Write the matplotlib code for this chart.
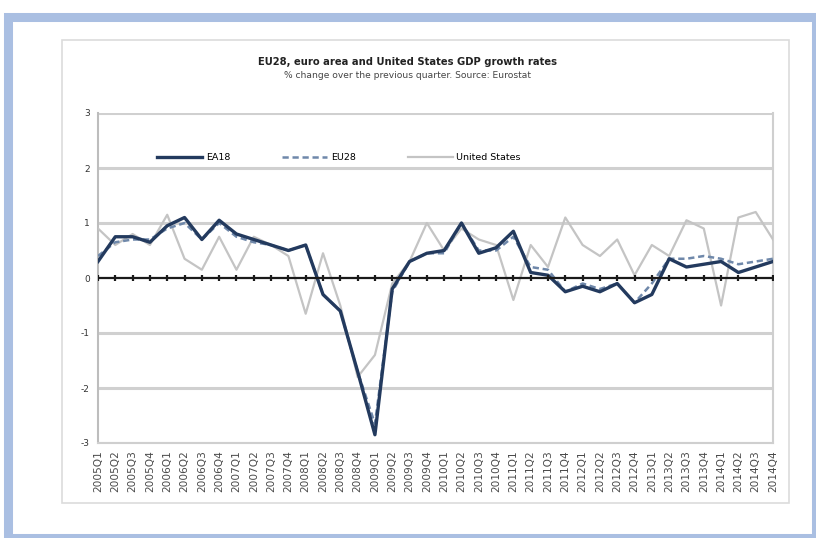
import matplotlib
matplotlib.use("Agg")
import matplotlib.pyplot as plt
from matplotlib.patches import Rectangle

# Quarterly GDP growth, % change over the previous quarter
quarters = [f"{y}Q{q}" for y in range(2005, 2015) for q in range(1, 5)]

ea18 = [0.3, 0.75, 0.75, 0.65, 0.95, 1.1, 0.7, 1.05, 0.8, 0.7,
        0.6, 0.5, 0.6, -0.3, -0.6, -1.7, -2.85, -0.2, 0.3, 0.45,
        0.5, 1.0, 0.45, 0.55, 0.85, 0.1, 0.05, -0.25, -0.15, -0.25,
        -0.1, -0.45, -0.3, 0.35, 0.2, 0.25, 0.3, 0.1, 0.2, 0.3]

eu28 = [0.4, 0.65, 0.7, 0.7, 0.9, 1.0, 0.7, 1.0, 0.75, 0.65,
        0.6, 0.5, 0.6, -0.3, -0.6, -1.7, -2.65, -0.25, 0.3, 0.45,
        0.45, 1.0, 0.5, 0.5, 0.75, 0.2, 0.15, -0.25, -0.1, -0.2,
        -0.1, -0.45, -0.1, 0.35, 0.35, 0.4, 0.35, 0.25, 0.3, 0.35]

us = [0.9, 0.6, 0.8, 0.6, 1.15, 0.35, 0.15, 0.75, 0.15, 0.75,
      0.6, 0.4, -0.65, 0.45, -0.5, -1.8, -1.4, -0.1, 0.3, 1.0,
      0.5, 0.9, 0.7, 0.6, -0.4, 0.6, 0.2, 1.1, 0.6, 0.4,
      0.7, 0.05, 0.6, 0.4, 1.05, 0.9, -0.5, 1.1, 1.2, 0.7]

y_ticks = [-3, -2, -1, 0, 1, 2, 3]

W, H = 816, 538
fig = plt.figure(figsize=(W / 100, H / 100), dpi=100)
fig.patch.set_facecolor("white")

# light blue outer frame
frame = Rectangle((8 / W, 0 / H), (W - 8) / W, (H - 17) / H,
                  transform=fig.transFigure, fill=False,
                  edgecolor="#aabfe2", linewidth=6.5)
fig.add_artist(frame)

# grey chart-area border
chart_box = Rectangle((62 / W, 1 - 503 / H), (789 - 62) / W, (503 - 40) / H,
                      transform=fig.transFigure, fill=False,
                      edgecolor="#dcdcdc", linewidth=1.2)
fig.add_artist(chart_box)

ax = fig.add_axes([98 / W, 1 - 443 / H, (773 - 98) / W, (443 - 113) / H])

x = list(range(len(quarters)))

for yv in y_ticks:
    if yv != 0:
        ax.axhline(yv, color="#d0d0d0", linewidth=2.2, zorder=1)

ax.plot(x, us, color="#c4c4c4", linewidth=1.6, zorder=3, label="United States")
ax.plot(x, eu28, color="#6f88aa", linewidth=1.8, linestyle=(0, (2.5, 1.5)),
        zorder=4, label="EU28")
ax.plot(x, ea18, color="#233a5e", linewidth=2.4, zorder=5, label="EA18")

# zero axis with tick marks crossing it
ax.axhline(0, color="#1a1a1a", linewidth=1.6, zorder=6)
ax.plot(x, [0] * len(x), linestyle="none", marker="|", markersize=5,
        markeredgewidth=1.6, color="#1a1a1a", zorder=6)

ax.set_xlim(0, len(quarters) - 1)
ax.set_ylim(-3, 3)
ax.set_yticks(y_ticks)
ax.set_yticklabels([str(v) for v in y_ticks], fontsize=6.5, color="#333333")
ax.set_xticks(x)
ax.set_xticklabels(quarters, rotation=90, fontsize=7.6, color="#4a4a4a")
ax.tick_params(axis="x", length=0, pad=5)
ax.tick_params(axis="y", length=0, pad=6)

ax.spines["top"].set_visible(False)
ax.spines["left"].set_color("#bdbdbd")
ax.spines["left"].set_linewidth(1.5)
ax.spines["bottom"].set_color("#cfcfcf")
ax.spines["bottom"].set_linewidth(1.5)
ax.spines["right"].set_color("#cfcfcf")
ax.spines["right"].set_linewidth(1.5)

handles, labels = ax.get_legend_handles_labels()
order = [2, 1, 0]
ax.legend([handles[i] for i in order], [labels[i] for i in order],
          loc="upper left", bbox_to_anchor=(0.075, 0.905), ncol=3,
          frameon=False, fontsize=6.8, handlelength=4.8, columnspacing=5.5,
          handletextpad=0.35)

fig.text(0.5, 1 - 62 / H, "EU28, euro area and United States GDP growth rates",
         ha="center", va="center", fontsize=7.2, fontweight="bold", color="#222222")
fig.text(0.5, 1 - 75 / H, "% change over the previous quarter. Source: Eurostat",
         ha="center", va="center", fontsize=6.6, color="#444444")

fig.savefig("out.png", dpi=100)
